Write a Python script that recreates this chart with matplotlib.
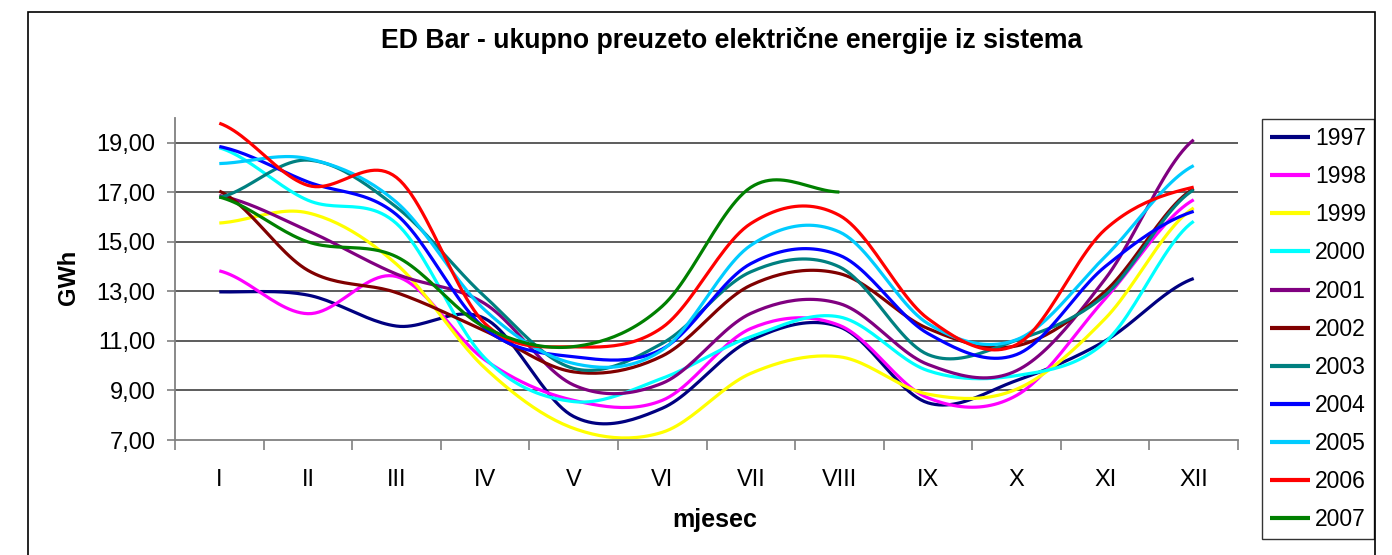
import numpy as np
import matplotlib.pyplot as plt
from matplotlib.ticker import FixedLocator, FuncFormatter

plt.rcParams['font.family'] = ['Liberation Sans', 'DejaVu Sans']

months = ['I', 'II', 'III', 'IV', 'V', 'VI', 'VII', 'VIII', 'IX', 'X', 'XI', 'XII']
years = ['1997', '1998', '1999', '2000', '2001', '2002',
         '2003', '2004', '2005', '2006', '2007']

v1997 = [12.98, 12.85, 11.60, 11.90, 7.95, 8.28, 11.03, 11.57, 8.50, 9.40, 11.00, 13.52]
v1998 = [13.83, 12.10, 13.60, 10.23, 8.60, 8.60, 11.50, 11.63, 8.70, 8.80, 12.70, 16.70]
v1999 = [15.76, 16.17, 14.10, 9.90, 7.47, 7.31, 9.69, 10.36, 8.85, 9.05, 11.90, 16.37]
v2000 = [18.80, 16.68, 15.74, 10.30, 8.55, 9.49, 11.17, 11.97, 9.80, 9.60, 10.95, 15.83]
v2001 = [16.87, 15.45, 13.70, 12.50, 9.22, 9.29, 12.11, 12.51, 10.05, 9.80, 13.50, 19.12]
v2002 = [17.05, 13.85, 12.95, 11.40, 9.75, 10.39, 13.25, 13.72, 11.50, 10.80, 13.00, 17.15]
v2003 = [16.79, 18.30, 16.40, 12.78, 9.89, 10.90, 13.79, 13.99, 10.45, 11.03, 12.85, 17.10]
v2004 = [18.85, 17.42, 16.10, 11.50, 10.36, 10.67, 14.12, 14.46, 11.30, 10.45, 14.00, 16.23]
v2005 = [18.16, 18.36, 16.60, 12.24, 10.09, 10.63, 14.86, 15.40, 11.70, 11.05, 14.40, 18.08]
v2006 = [19.79, 17.28, 17.60, 11.70, 10.76, 11.54, 15.74, 16.07, 11.90, 10.85, 15.50, 17.21]
v2007 = [16.81, 15.00, 14.40, 11.55, 10.77, 12.40, 17.20, 17.01]

series = [v1997, v1998, v1999, v2000, v2001, v2002, v2003, v2004, v2005, v2006, v2007]
colors = ['#000080', '#FF00FF', '#FFFF00', '#00FFFF', '#800080', '#800000',
          '#008080', '#0000FF', '#00CCFF', '#FF0000', '#008000']


def smooth(vals, n=24):
    # Excel-style smoothed line (Catmull-Rom through the monthly points)
    y = np.asarray(vals, float)
    p = np.concatenate([[y[0]], y, [y[-1]]])
    xs, ys = [], []
    t = np.linspace(0, 1, n, endpoint=False)
    for i in range(len(y) - 1):
        p0, p1, p2, p3 = p[i], p[i + 1], p[i + 2], p[i + 3]
        m1 = (p2 - p0) / 2
        m2 = (p3 - p1) / 2
        h00 = 2 * t**3 - 3 * t**2 + 1
        h10 = t**3 - 2 * t**2 + t
        h01 = -2 * t**3 + 3 * t**2
        h11 = t**3 - t**2
        xs.append(i + t)
        ys.append(h00 * p1 + h10 * m1 + h01 * p2 + h11 * m2)
    xs.append([len(y) - 1])
    ys.append([y[-1]])
    return np.concatenate(xs) + 0.5, np.concatenate(ys)


fig = plt.figure(figsize=(13.92, 5.55), dpi=100)
ax = fig.add_axes([175 / 1392, 1 - 440 / 555, (1238 - 175) / 1392, (440 - 118) / 555])

for yr, vals, c in zip(years, series, colors):
    sx, sy = smooth(vals)
    ax.plot(sx, sy, color=c, lw=2.3, label=yr, solid_capstyle='butt')

ax.set_xlim(0, 12)
ax.set_ylim(7, 20)

ax.yaxis.set_major_locator(FixedLocator(np.arange(7, 20, 2)))
ax.yaxis.set_major_formatter(FuncFormatter(lambda v, p: f'{v:.2f}'.replace('.', ',')))
for yv in range(9, 20, 2):
    ax.axhline(yv, color='#303030', lw=1.1, zorder=0)

ax.set_xticks(np.arange(0, 13))
ax.set_xticklabels([])
ax.set_xticks(np.arange(12) + 0.5, minor=True)
ax.set_xticklabels(months, minor=True)
ax.tick_params(axis='x', which='minor', length=0, pad=21, labelsize=17)
ax.tick_params(axis='x', which='major', length=7, width=1.2, color='#808080')
ax.tick_params(axis='y', length=6, width=1.2, color='#808080', pad=8, labelsize=17)

for s in ['top', 'right']:
    ax.spines[s].set_visible(False)
for s in ['left', 'bottom']:
    ax.spines[s].set_color('#808080')
    ax.spines[s].set_linewidth(1.3)

fig.text(715 / 1392, 1 - 520 / 555, 'mjesec', ha='center', va='center',
         fontsize=18, fontweight='bold')
fig.text(68 / 1392, 1 - 277 / 555, 'GWh', ha='center', va='center',
         rotation=90, fontsize=17, fontweight='bold')

fig.text(732 / 1392, 1 - 40 / 555, 'ED Bar - ukupno preuzeto električne energije iz sistema',
         ha='center', va='center', fontsize=19.2, fontweight='bold')

leg = ax.legend(loc='upper left', bbox_to_anchor=(1262 / 1392, 1 - 119 / 555),
                bbox_transform=fig.transFigure, fontsize=16.5, frameon=True,
                fancybox=False, edgecolor='black', handlelength=1.75,
                handletextpad=0.22, labelspacing=0.66, borderpad=0.35,
                borderaxespad=0)
leg.get_frame().set_linewidth(1.0)
for line in leg.get_lines():
    line.set_linewidth(3)

fig.add_artist(plt.Rectangle((28 / 1392, -0.05), (1375 - 28) / 1392, 1 - 12 / 555 + 0.05,
                             transform=fig.transFigure, fill=False,
                             edgecolor='black', lw=1.2))

fig.savefig('out.png', dpi=100)
